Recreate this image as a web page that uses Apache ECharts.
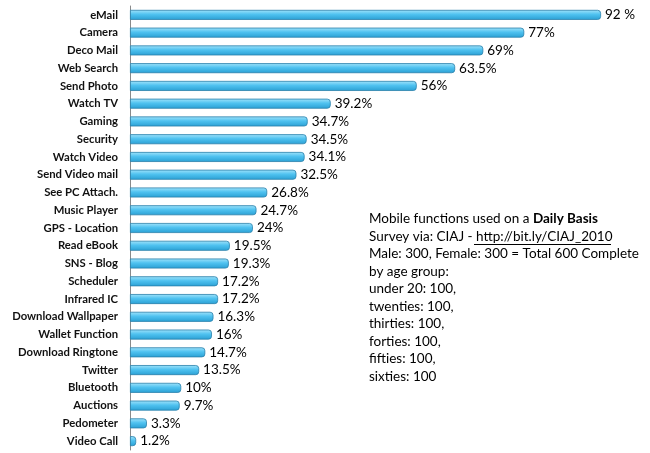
<!DOCTYPE html>
<html><head><meta charset="utf-8">
<script src="https://cdn.jsdelivr.net/npm/echarts@6/dist/echarts.min.js"></script>
<style>html,body{margin:0;padding:0;background:#fff}#c{width:650px;height:453px}</style>
</head><body><div id="c"></div>
<script>
const categories = ["eMail","Camera","Deco Mail","Web Search","Send Photo","Watch TV","Gaming","Security","Watch Video","Send Video mail","See PC Attach.","Music Player","GPS - Location","Read eBook","SNS - Blog","Scheduler","Infrared IC","Download Wallpaper","Wallet Function","Download Ringtone","Twitter","Bluetooth","Auctions","Pedometer","Video Call"];
const values = [92,77,69,63.5,56,39.2,34.7,34.5,34.1,32.5,26.8,24.7,24,19.5,19.3,17.2,17.2,16.3,16,14.7,13.5,10,9.7,3.3,1.2];
const valueLabels = ["92 %","77%","69%","63.5%","56%","39.2%","34.7%","34.5%","34.1%","32.5%","26.8%","24.7%","24%","19.5%","19.3%","17.2%","17.2%","16.3%","16%","14.7%","13.5%","10%","9.7%","3.3%","1.2%"];
const noteLines = ["Survey via: CIAJ - ","Male: 300, Female: 300 = Total 600 Complete","by age group:","under 20: 100,","twenties: 100,","thirties: 100,","forties: 100,","fifties: 100,","sixties: 100"];

const chart = echarts.init(document.getElementById('c'));
const font = "'Lato','Open Sans',sans-serif";
const noteFont = "'Lato','Noto Sans',sans-serif";
const nfs = 13.5;
const graphics = [];
const x0 = 369, y0 = 220, lh = 17.5;
graphics.push({type:'text', left:x0, top:y0-8, style:{
  text:'{a|Mobile functions used on a }{b|Daily Basis}',
  rich:{a:{fontSize:nfs,fontFamily:noteFont,fill:'#000'},b:{fontSize:nfs,fontFamily:noteFont,fontWeight:'bold',fill:'#000'}}
}});
graphics.push({type:'text', left:x0, top:y0+lh-8, style:{
  text:'{a|Survey via: CIAJ - }{b|http://bit.ly/CIAJ_2010}',
  rich:{a:{fontSize:nfs,fontFamily:noteFont,fill:'#000'},b:{fontSize:nfs,fontFamily:noteFont,fill:'#000'}}
}});
graphics.push({type:'line', shape:{x1:474,y1:y0+lh+7,x2:611,y2:y0+lh+7}, style:{stroke:'#000',lineWidth:1}});
for (let i=1;i<noteLines.length;i++){
  graphics.push({type:'text', left:x0, top:y0+(i+1)*lh-8, style:{text:noteLines[i],fontSize:nfs,fontFamily:noteFont,fill:'#000'}});
}

chart.setOption({
  animation:false,
  grid:{left:130,right:8,top:6,bottom:3},
  xAxis:{type:'value',min:0,max:100,show:false},
  yAxis:{type:'category',data:categories,inverse:true,
    axisLine:{show:true,lineStyle:{color:'#8a8a8a',width:1}},
    axisTick:{show:false},
    axisLabel:{color:'#111',fontWeight:'bold',fontSize:11.3,fontFamily:font,margin:12}},
  series:[{type:'bar',data:values,barWidth:10,
    itemStyle:{
      color:new echarts.graphic.LinearGradient(0,0,0,1,[{offset:0,color:'#a3e4fb'},{offset:0.45,color:'#4fc2f0'},{offset:1,color:'#2a9fd3'}]),
      borderColor:'#2a80ab',borderWidth:0.8,borderRadius:[0,3,3,0]},
    label:{show:true,position:'right',distance:4,color:'#000',fontSize:13.5,fontFamily:noteFont,
      formatter:p=>valueLabels[p.dataIndex]}}],
  graphic:graphics
});
</script></body></html>
